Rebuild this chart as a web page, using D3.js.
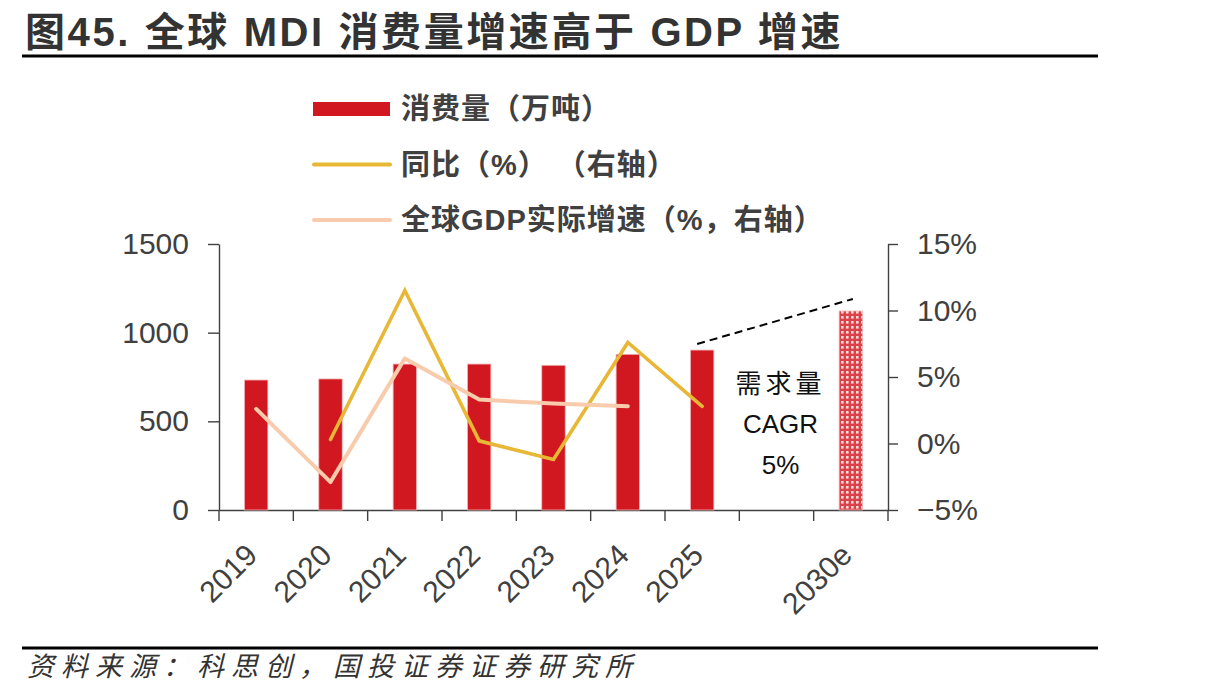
<!DOCTYPE html>
<html>
<head>
<meta charset="utf-8">
<script src="https://cdn.jsdelivr.net/npm/d3@7"></script>
<style>
  body { margin: 0; background: #fff; }
  svg { display: block; }
  text { fill: #404040; }
</style>
</head>
<body>
<div id="chart"></div>
<script>
// Data
const years = ["2019", "2020", "2021", "2022", "2023", "2024", "2025", " ", "2030e"];
const consumption = [733, 739, 823, 823, 816, 878, 902, null, 1122];   // 万吨
const yoyGrowth = [null, 0.3, 11.5, 0.2, -1.2, 7.6, 2.8, null, null];   // %
const gdpGrowth = [2.6, -2.9, 6.4, 3.3, 3.0, 2.8, null, null, null];    // %
const leftTicks = [0, 500, 1000, 1500];
const rightTicks = [-5, 0, 5, 10, 15];
const trendYears = ["2025", "2030e"];
const trendValues = [936, 1190];
const legendLabels = ["消费量（万吨）", "同比（%） （右轴）", "全球GDP实际增速（%，右轴）"];

const W = 1213, H = 697;
const red = "#D1171F", gold = "#E8B735", peach = "#F8CBAD", axisColor = "#404040";
const latin = "'Liberation Sans', Arial, sans-serif";
const cjk = "'Liberation Sans', 'Noto Sans CJK SC', sans-serif";

const svg = d3.select("#chart").append("svg")
    .attr("width", W)
    .attr("height", H);

svg.append("rect").attr("width", W).attr("height", H).attr("fill", "#fff");

// pattern for the forecast bar
const pat = svg.append("defs").append("pattern")
    .attr("id", "dots")
    .attr("patternUnits", "userSpaceOnUse")
    .attr("width", 5).attr("height", 5);
pat.append("rect").attr("width", 5).attr("height", 5).attr("fill", "#DB4148");
pat.append("rect").attr("x", 1).attr("y", 1).attr("width", 2.6).attr("height", 2.6).attr("fill", "#fff").attr("opacity", 0.8);

// Title and rules
svg.append("text")
    .attr("x", 25).attr("y", 46)
    .style("font-family", cjk)
    .style("font-size", "40px")
    .style("font-weight", "bold")
    .style("letter-spacing", "2.6px")
    .style("fill", "#333")
    .text("图45. 全球 MDI 消费量增速高于 GDP 增速");

svg.append("line").attr("x1", 22).attr("x2", 1098).attr("y1", 56).attr("y2", 56)
    .attr("stroke", "#000").attr("stroke-width", 3);
svg.append("line").attr("x1", 22).attr("x2", 1098).attr("y1", 648).attr("y2", 648)
    .attr("stroke", "#000").attr("stroke-width", 3);

svg.append("text")
    .attr("x", 27).attr("y", 676)
    .style("font-family", "'Noto Sans CJK SC', sans-serif")
    .style("font-size", "27px")
    .style("font-style", "italic")
    .style("letter-spacing", "7px")
    .style("fill", "#333")
    .text("资料来源：科思创，国投证券证券研究所");

// Scales
const x = d3.scaleBand().domain(years).range([219, 888]).padding(0);
const yL = d3.scaleLinear().domain([0, 1500]).range([510, 244]);
const yR = d3.scaleLinear().domain([-5, 15]).range([510, 244]);
const barW = x.bandwidth() * 0.315;
const cx = d => x(d) + x.bandwidth() / 2;

// Axes
const gLeft = svg.append("g")
    .attr("transform", `translate(${x.range()[0]},0)`)
    .call(d3.axisLeft(yL).tickValues(leftTicks).tickSize(11).tickSizeOuter(0).tickPadding(19)
        .tickFormat(d3.format("d")));

const gRight = svg.append("g")
    .attr("transform", `translate(${x.range()[1]},0)`)
    .call(d3.axisRight(yR).tickValues(rightTicks).tickSize(10).tickSizeOuter(0).tickPadding(19)
        .tickFormat(d => (d < 0 ? "−" : "") + Math.abs(d) + "%"));

const gBottom = svg.append("g")
    .attr("transform", `translate(0,${yL(0)})`)
    .call(d3.axisBottom(x).tickSize(0).tickSizeOuter(0));

gBottom.selectAll(".tick text")
    .attr("text-anchor", "end")
    .attr("dy", null)
    .attr("y", 0)
    .attr("transform", "translate(3,47) rotate(-45)");

// boundary ticks between categories
const bounds = years.map(d => x(d)).concat([x.range()[1]]);
gBottom.selectAll(".btick").data(bounds).enter().append("line")
    .attr("class", "btick")
    .attr("x1", d => d).attr("x2", d => d)
    .attr("y1", 0).attr("y2", 11);

[gLeft, gRight, gBottom].forEach(g => {
    g.selectAll("path").attr("stroke", axisColor).attr("stroke-width", 1.4);
    g.selectAll("line").attr("stroke", axisColor).attr("stroke-width", 1.4);
    g.selectAll("text")
        .style("font-family", latin)
        .style("font-size", "30px")
        .style("fill", axisColor);
});
gLeft.raise();

// Bars
const barData = years.map((d, i) => ({ year: d, v: consumption[i] })).filter(d => d.v != null);
svg.append("g").selectAll("rect").data(barData).enter().append("rect")
    .attr("x", d => cx(d.year) - barW / 2)
    .attr("width", barW)
    .attr("y", d => yL(d.v))
    .attr("height", d => yL(0) - yL(d.v))
    .attr("fill", d => d.year === "2030e" ? "url(#dots)" : red)
    .attr("stroke", "#F3B5B7")
    .attr("stroke-width", 0.8);

// Lines
const lineGen = d3.line()
    .defined(d => d.v != null)
    .x(d => cx(d.year))
    .y(d => yR(d.v));

svg.append("path")
    .datum(years.map((d, i) => ({ year: d, v: yoyGrowth[i] })))
    .attr("d", lineGen)
    .attr("fill", "none")
    .attr("stroke", gold)
    .attr("stroke-width", 3.6)
    .attr("stroke-linecap", "round");

svg.append("path")
    .datum(years.map((d, i) => ({ year: d, v: gdpGrowth[i] })))
    .attr("d", lineGen)
    .attr("fill", "none")
    .attr("stroke", peach)
    .attr("stroke-width", 4)
    .attr("stroke-linecap", "round")
    .attr("stroke-linejoin", "round");

// CAGR trend dashes
svg.append("line")
    .attr("x1", cx(trendYears[0]) - 5).attr("y1", yL(trendValues[0]))
    .attr("x2", cx(trendYears[1]) + 2).attr("y2", yL(trendValues[1]))
    .attr("stroke", "#000")
    .attr("stroke-width", 2)
    .attr("stroke-dasharray", "8,5");

// Annotation between 2025 and 2030e
const noteX = x(" ") + x.bandwidth() / 2 + 4;
svg.append("text")
    .attr("x", noteX).attr("y", 393)
    .attr("text-anchor", "middle")
    .style("font-family", "'Noto Sans CJK SC', serif")
    .style("font-size", "26px")
    .style("letter-spacing", "4px")
    .style("fill", "#111")
    .text("需求量");
svg.append("text")
    .attr("x", noteX).attr("y", 433)
    .attr("text-anchor", "middle")
    .style("font-family", "'Liberation Sans Narrow', 'Liberation Sans', sans-serif")
    .style("font-size", "26px")
    .style("fill", "#111")
    .text("CAGR");
svg.append("text")
    .attr("x", noteX).attr("y", 474)
    .attr("text-anchor", "middle")
    .style("font-family", "'Liberation Sans Narrow', 'Liberation Sans', sans-serif")
    .style("font-size", "26px")
    .style("fill", "#111")
    .text("5%");

// Legend
const legend = svg.append("g").attr("transform", "translate(313,109)");
legendLabels.forEach((label, i) => {
    const row = legend.append("g").attr("transform", `translate(0,${i * 55.5})`);
    if (i === 0) {
        row.append("rect").attr("x", 0).attr("y", -7).attr("width", 77).attr("height", 14).attr("fill", red);
    } else {
        row.append("line").attr("x1", 1).attr("x2", 77).attr("y1", 0).attr("y2", 0)
            .attr("stroke", i === 1 ? gold : peach)
            .attr("stroke-width", 4)
            .attr("stroke-linecap", "round");
    }
    row.append("text")
        .attr("x", 88).attr("y", 0)
        .attr("dominant-baseline", "central")
        .style("font-family", cjk)
        .style("font-size", "29px")
        .style("font-weight", "bold")
        .style("letter-spacing", "1px")
        .style("white-space", "pre")
        .style("fill", "#404040")
        .text(label);
});
</script>
</body>
</html>
